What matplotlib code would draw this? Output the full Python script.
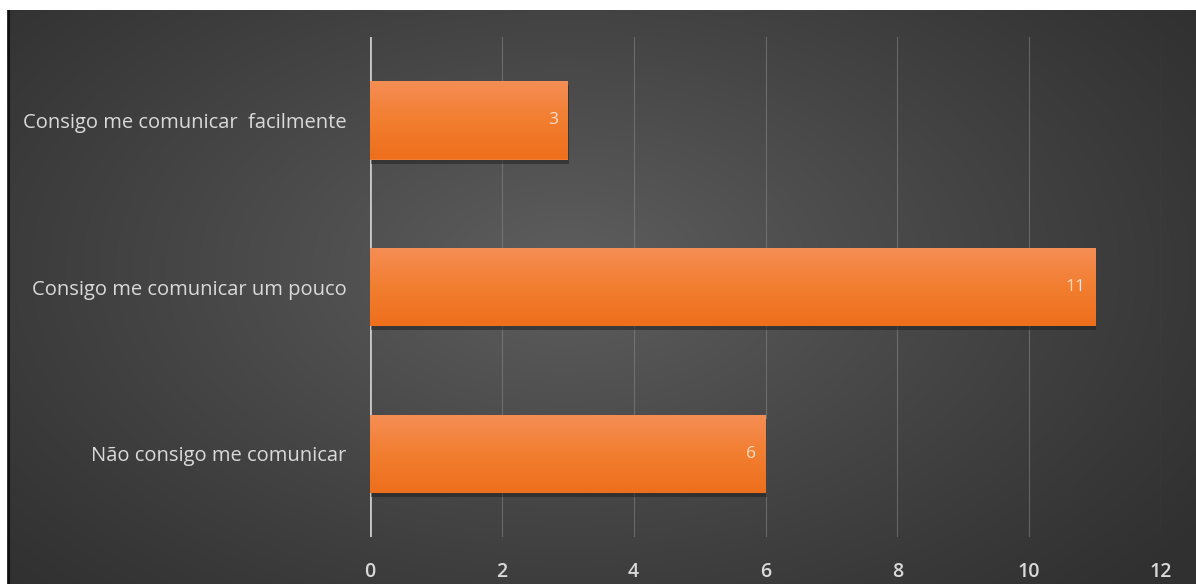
import matplotlib
matplotlib.use("Agg")
import matplotlib.pyplot as plt
import numpy as np
from matplotlib.colors import LinearSegmentedColormap

# survey answers, bottom to top as drawn
categories = ["Não consigo me comunicar",
              "Consigo me comunicar um pouco",
              "Consigo me comunicar  facilmente"]
counts = [6, 11, 3]
xticks = [0, 2, 4, 6, 8, 10, 12]

FONT = ["Open Sans", "DejaVu Sans"]
TEXT = "#dadada"

fig = plt.figure(figsize=(11.96, 5.87), dpi=100)
fig.patch.set_facecolor("white")

# dark panel with a soft radial glow behind the plot
bg = fig.add_axes([7 / 1196, 3 / 587, 1 - 7 / 1196, 1 - 13 / 587])
bg.set_axis_off()
h, w = 300, 600
yy, xx = np.mgrid[0:h, 0:w]
cx, cy = 0.47 * w, 0.45 * h
r = np.sqrt(((xx - cx) / (0.65 * w)) ** 2 + ((yy - cy) / (0.8 * h)) ** 2)
shade = np.clip(1 - r, 0, 1) ** 1.1
lo, hi = 0.19, 0.37
img = lo + (hi - lo) * shade
bg.imshow(np.dstack([img, img, img]), aspect="auto", extent=[0, 1, 0, 1],
          interpolation="bilinear")
bg.set_xlim(0, 1)
bg.set_ylim(0, 1)
bg.axvline(0.0015, color="#111111", lw=1.5)

ax = fig.add_axes([370 / 1196, 50 / 587, 791 / 1196, 500 / 587])
ax.set_facecolor("none")
ax.set_xlim(0, 12)
ax.set_ylim(-0.5, 2.5)
ax.set_xticks(xticks)
ax.grid(axis="x", color="#8a8a8a", lw=0.8, alpha=0.55)
ax.set_axisbelow(True)
for s in ax.spines.values():
    s.set_visible(False)
ax.axvline(0, color="#c8c8c8", lw=2, zorder=2)

ypos = np.arange(len(categories))
bh = 0.47

# drop shadow under each bar
ax.barh(ypos - 0.025, counts, height=bh, left=0.02, color="#1e1e1e",
        alpha=0.5, zorder=2)
bars = ax.barh(ypos, counts, height=bh, color="#f27c2f", zorder=3)

orange = LinearSegmentedColormap.from_list(
    "orange", ["#ee6f1c", "#f27e30", "#f58e55"])
grad = np.linspace(0, 1, 64).reshape(-1, 1)
for b in bars:
    x0, y0 = b.get_x(), b.get_y()
    im = ax.imshow(grad, cmap=orange, aspect="auto", origin="lower",
                   extent=[x0, x0 + b.get_width(), y0, y0 + b.get_height()],
                   zorder=4)
    im.set_clip_path(b)

ax.set_xlim(0, 12)
ax.set_ylim(-0.5, 2.5)

for y, v in zip(ypos, counts):
    ax.text(v - 0.15, y, str(v), ha="right", va="center", color="#fcdcc4",
            fontsize=12.5, family=FONT, zorder=5)

ax.set_yticks(ypos)
ax.set_yticklabels(categories, family=FONT, fontsize=14.5, color=TEXT)
ax.set_xticklabels([str(t) for t in xticks], family=FONT, fontsize=14,
                   color=TEXT, fontweight="semibold")
ax.tick_params(length=0)
ax.tick_params(axis="y", pad=17)
ax.tick_params(axis="x", pad=18)

fig.savefig("out.png", dpi=100)
